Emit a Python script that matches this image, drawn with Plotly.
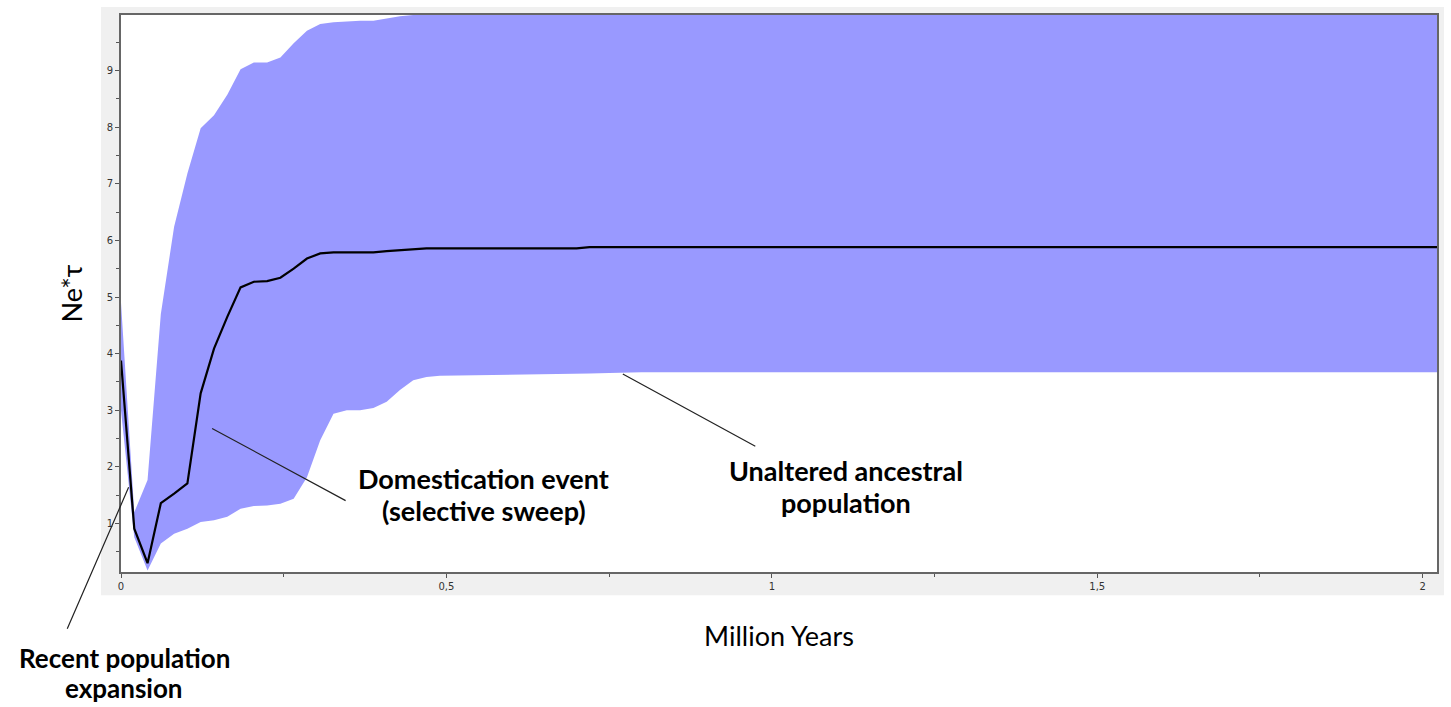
import plotly.graph_objects as go

# Time (million years) and effective population size trajectory
time_my = [0, 0.0204, 0.0408, 0.0612, 0.0816, 0.102, 0.1224, 0.1429, 0.1633, 0.1837,
           0.2041, 0.2245, 0.2449, 0.2653, 0.2857, 0.3061, 0.3265, 0.3469, 0.3673, 0.3878,
           0.4082, 0.4286, 0.449, 0.4694, 0.4898, 0.55, 0.6, 0.65, 0.70, 0.72,
           0.75, 0.8, 1.0, 1.5, 2.022]
median_ne = [3.88, 0.91, 0.30, 1.36, 1.53, 1.71, 3.30, 4.09, 4.65, 5.17,
             5.27, 5.28, 5.34, 5.50, 5.68, 5.77, 5.79, 5.79, 5.79, 5.79,
             5.81, 5.83, 5.85, 5.86, 5.86, 5.86, 5.86, 5.86, 5.86, 5.88,
             5.88, 5.88, 5.88, 5.88, 5.88]
upper_ne = [4.90, 1.20, 1.77, 4.70, 6.24, 7.18, 7.98, 8.21, 8.57, 9.02,
            9.14, 9.14, 9.23, 9.48, 9.70, 9.82, 9.85, 9.87, 9.88, 9.88,
            9.92, 9.96, 9.98, 9.98, 9.98, 9.98, 9.98, 9.98, 9.98, 9.98,
            9.98, 9.98, 9.98, 9.98, 9.98]
lower_ne = [3.00, 0.76, 0.17, 0.65, 0.82, 0.91, 1.03, 1.06, 1.12, 1.26,
            1.31, 1.32, 1.35, 1.44, 1.82, 2.47, 2.94, 3.00, 3.00, 3.04,
            3.15, 3.36, 3.53, 3.59, 3.61, 3.62, 3.62, 3.63, 3.64, 3.65,
            3.66, 3.67, 3.67, 3.67, 3.67]

x_ticks = [0, 0.5, 1, 1.5, 2]
x_tick_labels = ["0", "0,5", "1", "1,5", "2"]
y_ticks = [1, 2, 3, 4, 5, 6, 7, 8, 9]

BAND = "#9999ff"
LABEL_FONT = dict(family="Lato", size=27, color="#000000")
TITLE_FONT = dict(family="Lato", size=27, color="#000000")

fig = go.Figure()
fig.add_trace(go.Scatter(x=time_my, y=lower_ne, mode="lines",
                         line=dict(width=0, color=BAND), showlegend=False,
                         hoverinfo="skip"))
fig.add_trace(go.Scatter(x=time_my, y=upper_ne, mode="lines", fill="tonexty",
                         fillcolor=BAND, line=dict(width=0, color=BAND),
                         showlegend=False, hoverinfo="skip"))
fig.add_trace(go.Scatter(x=time_my, y=median_ne, mode="lines",
                         line=dict(width=2.2, color="#000000"), showlegend=False))

# grey panel behind the plotting area, then the white plotting area on top
fig.add_shape(type="rect", xref="paper", yref="paper", x0=-0.0152, x1=1.0053,
              y0=-0.0419, y1=1.0144, fillcolor="#f0f0f0", line_width=0, layer="below")
fig.add_shape(type="rect", xref="paper", yref="paper", x0=0, x1=1, y0=0, y1=1,
              fillcolor="#ffffff", line_width=0, layer="below")

# leader lines from labelled features
leaders = [
    dict(x=0.140, y=2.68, ax=135, ay=73),
    dict(x=0.771, y=3.64, ax=134, ay=73),
    dict(x=0.0117, y=1.64, ax=-62, ay=143),
]
for ld in leaders:
    fig.add_annotation(x=ld["x"], y=ld["y"], xref="x", yref="y", text="",
                       showarrow=True, arrowhead=0, arrowwidth=1.2,
                       arrowcolor="#222222", ax=ld["ax"], ay=ld["ay"],
                       standoff=0, startstandoff=0)

# feature labels, one line each
labels = [
    dict(x=0.557, y=1.79, xref="x", yref="y", size=27, text="Domestication event"),
    dict(x=0.557, y=1.235, xref="x", yref="y", size=27, text="(selective sweep)"),
    dict(x=1.1135, y=1.936, xref="x", yref="y", size=27, text="Unaltered ancestral"),
    dict(x=1.1135, y=1.376, xref="x", yref="y", size=27, text="population"),
    dict(x=0.0023, y=-0.155, xref="paper", yref="paper", size=26, text="Recent population"),
    dict(x=0.0023, y=-0.209, xref="paper", yref="paper", size=26, text="expansion"),
]
for lb in labels:
    fig.add_annotation(x=lb["x"], y=lb["y"], xref=lb["xref"], yref=lb["yref"],
                       text="<b>" + lb["text"] + "</b>", showarrow=False,
                       font=dict(LABEL_FONT, size=lb["size"]),
                       xanchor="center", yanchor="middle")

axis_common = dict(showline=True, linecolor="#666666", linewidth=2, mirror=True,
                   showgrid=False, zeroline=False, ticks="outside", ticklen=4,
                   tickcolor="#555555", tickwidth=1,
                   tickfont=dict(family="DejaVu Sans", size=10, color="#333333"))

fig.update_layout(
    width=1451, height=707,
    margin=dict(l=121, r=12, t=15, b=135),
    paper_bgcolor="#ffffff", plot_bgcolor="#ffffff",
    separators=", ",
    xaxis=dict(range=[0, 2.022], tickvals=x_ticks, ticktext=x_tick_labels,
               minor=dict(dtick=0.25, tick0=0, ticks="outside", ticklen=3,
                          tickcolor="#555555"),
               title=dict(text="Million Years", standoff=36, font=TITLE_FONT),
               **axis_common),
    yaxis=dict(range=[0.145, 9.98], tickvals=y_ticks,
               minor=dict(dtick=0.5, tick0=0, ticks="outside", ticklen=3,
                          tickcolor="#555555"),
               title=dict(text="Ne*τ", standoff=16, font=TITLE_FONT),
               **axis_common),
)

fig.write_html("out.html")
